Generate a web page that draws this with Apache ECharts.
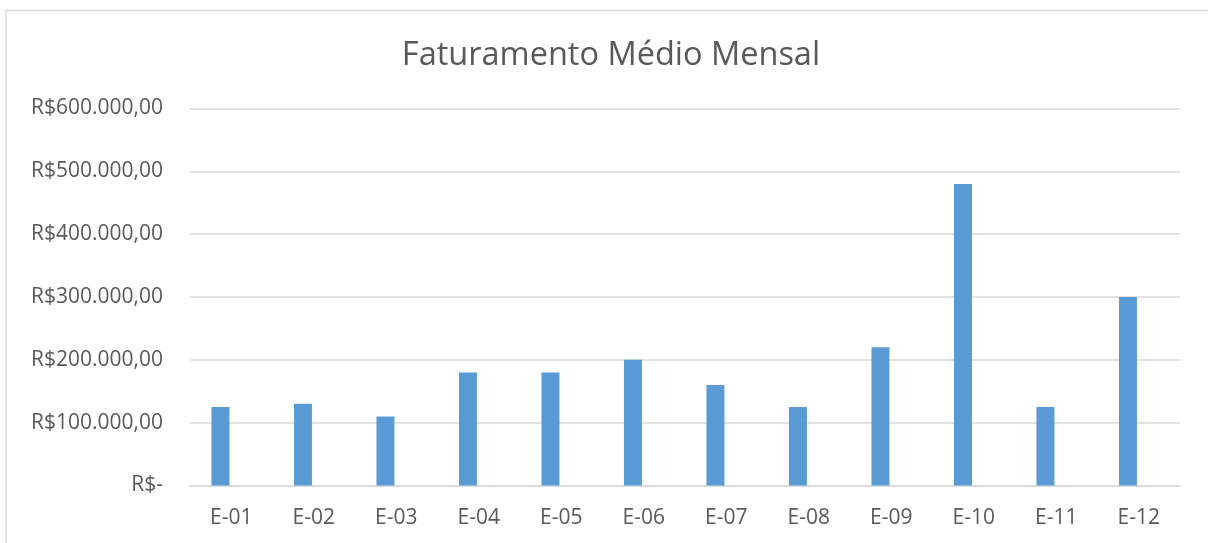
<!DOCTYPE html>
<html>
<head>
<meta charset="utf-8">
<script src="https://cdn.jsdelivr.net/npm/echarts@6/dist/echarts.min.js"></script>
<style>
  html, body { margin: 0; padding: 0; background: #fff; }
  #chart { width: 1208px; height: 543px; }
</style>
</head>
<body>
<div id="chart"></div>
<script>
// dados do gráfico
var categorias = ['E-01', 'E-02', 'E-03', 'E-04', 'E-05', 'E-06', 'E-07', 'E-08', 'E-09', 'E-10', 'E-11', 'E-12'];
var faturamento = [125000, 130000, 110000, 180000, 180000, 200000, 160000, 125000, 220000, 480000, 125000, 300000];
// segunda série vazia (desloca as barras para a esquerda, como no original)
var serieVazia = [null, null, null, null, null, null, null, null, null, null, null, null];
var yMin = 0, yMax = 600000, yPasso = 100000;

//== formata em reais
var formatarReais = function (v) {
    if (v === 0) {
        return 'R$-';
    }
    var s = String(Math.round(v)).replace(/\B(?=(\d{3})+(?!\d))/g, '.');
    return 'R$' + s + ',00';
};

var fonte = '"Open Sans", sans-serif';
var myChart = echarts.init(document.getElementById('chart'));
var option = {
    backgroundColor: '#fff',
    animation: false,
    graphic: [{
        type: 'rect',
        shape: { x: 6, y: 10.5, width: 1300, height: 600 },
        style: { fill: 'none', stroke: '#d9d9d9', lineWidth: 1.5 },
        silent: true
    }],
    title: {
        text: 'Faturamento Médio Mensal',
        left: 606,
        textAlign: 'center',
        top: 34,
        textStyle: { fontFamily: fonte, fontSize: 32.5, fontWeight: 'normal', color: '#595959' }
    },
    grid: { left: 190, right: 28, top: 108.5, bottom: 57.5 },
    xAxis: {
        type: 'category',
        data: categorias,
        axisLine: { lineStyle: { color: '#d9d9d9', width: 1.5 } },
        axisTick: { show: false },
        axisLabel: { fontFamily: fonte, fontSize: 21, color: '#595959', margin: 22 }
    },
    yAxis: {
        type: 'value',
        min: yMin,
        max: yMax,
        interval: yPasso,
        axisLine: { show: false },
        axisTick: { show: false },
        splitLine: { lineStyle: { color: '#d9d9d9', width: 1.5 } },
        axisLabel: {
            fontFamily: fonte, fontSize: 21, color: '#595959', margin: 27,
            formatter: formatarReais
        }
    },
    series: [{
        type: 'bar',
        data: faturamento,
        barWidth: 18,
        barGap: '20%',
        itemStyle: { color: '#5b9bd5' }
    }, {
        type: 'bar',
        data: serieVazia,
        barWidth: 18,
        itemStyle: { color: '#ed7d31' }
    }]
};
myChart.setOption(option, true);
</script>
</body>
</html>
